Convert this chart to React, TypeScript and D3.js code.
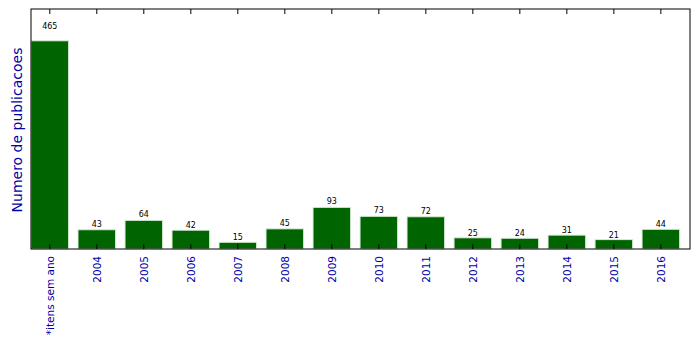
import React from "react";
import * as d3 from "d3";

const categories = ["*itens sem ano", "2004", "2005", "2006", "2007", "2008", "2009", "2010", "2011", "2012", "2013", "2014", "2015", "2016"];
const values = [465, 43, 64, 42, 15, 45, 93, 73, 72, 25, 24, 31, 21, 44];

const W = 699, H = 349;
const L = 31, R = 690, T = 9, B = 249;

export default function App() {
  const x = d3.scaleLinear().domain([-0.4, 13.62]).range([L, R]);
  const y = d3.scaleLinear().domain([0, 536]).range([B, T]);
  const bw = x(0.8) - x(0);
  const font = "DejaVu Sans, sans-serif";
  const blue = "#0000A8";
  return (
    <svg width={W} height={H} style={{ position: "absolute", left: 0, top: 0, background: "#fff" }}>
      {values.map((v, i) => (
        <rect key={i} x={x(i - 0.4)} y={y(v)} width={bw} height={B - y(v)} fill="#006400" stroke="#d8ecd8" strokeWidth={1} />
      ))}
      {values.map((v, i) => (
        <text key={"l" + i} x={x(i)} y={y(v * 1.05) - 1.5} textAnchor="middle" fontFamily={font} fontSize={8} fill="#000">{v}</text>
      ))}
      {categories.map((c, i) => (
        <g key={"t" + i}>
          <line x1={x(i)} x2={x(i)} y1={T} y2={T + 5} stroke="#000" strokeWidth={1} />
          <line x1={x(i)} x2={x(i)} y1={B} y2={B - 5} stroke="#000" strokeWidth={1} />
          <text transform={`translate(${x(i) + 3.7},${B + 7}) rotate(-90)`} textAnchor="end" fontFamily={font} fontSize={10.5} fill={blue}>{c}</text>
        </g>
      ))}
      <rect x={L} y={T} width={R - L} height={B - T} fill="none" stroke="#000" strokeWidth={1} />
      <text transform={`translate(${21.5},${130}) rotate(-90)`} textAnchor="middle" fontFamily={font} fontSize={14} fill={blue}>Numero de publicacoes</text>
    </svg>
  );
}
